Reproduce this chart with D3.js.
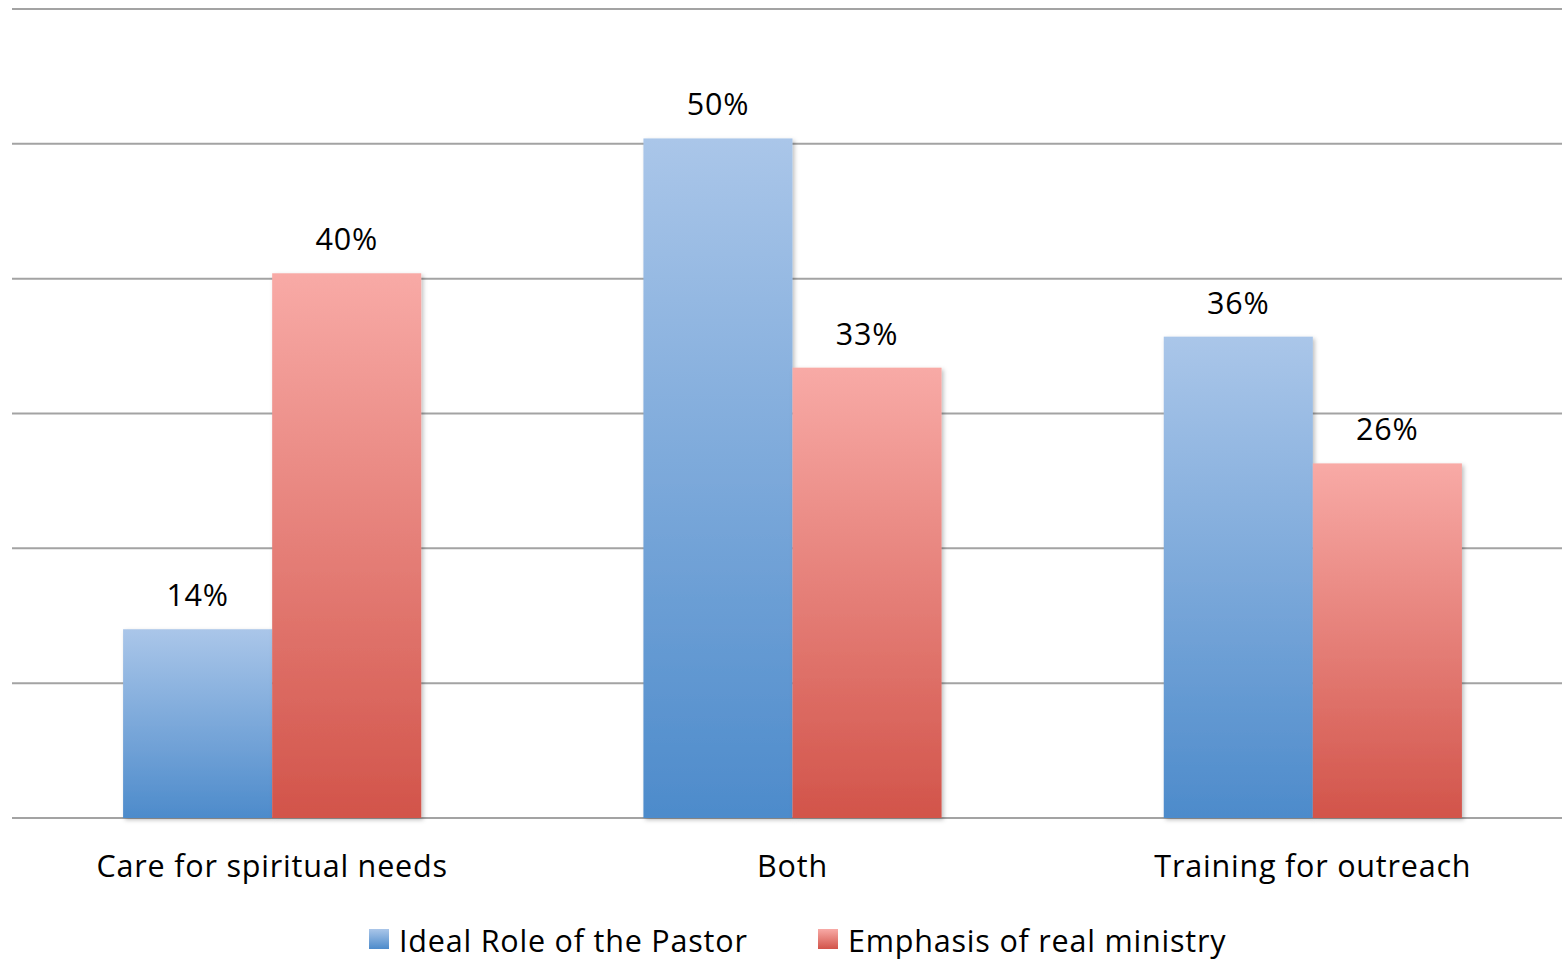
<!DOCTYPE html>
<html><head><meta charset="utf-8">
<script src="https://cdn.jsdelivr.net/npm/d3@7"></script>
<style>body{margin:0;background:#fff;}svg{display:block;}</style>
</head><body>
<svg id="c" width="1562" height="962"></svg>
<script>
const categories = ["Care for spiritual needs", "Both", "Training for outreach"];
const seriesNames = ["Ideal Role of the Pastor", "Emphasis of real ministry"];
const idealValues = [14.0, 50.4, 35.7];
const emphasisValues = [40.4, 33.4, 26.3];
const valueLabels = [["14%", "50%", "36%"], ["40%", "33%", "26%"]];
const yTicks = [0, 10, 20, 30, 40, 50, 60];

const svg = d3.select("#c");
const font = "'Open Sans', sans-serif";
const fs = 30.5;
const ls = 0.8;
const defs = svg.append("defs");
const grads = [["#aac6e9", "#4d8bcb"], ["#f8aaa6", "#d2544a"]];
grads.forEach((g, i) => {
  const lg = defs.append("linearGradient").attr("id", "g" + i).attr("x1", 0).attr("y1", 0).attr("x2", 0).attr("y2", 1);
  lg.append("stop").attr("offset", "0%").attr("stop-color", g[0]);
  lg.append("stop").attr("offset", "100%").attr("stop-color", g[1]);
});
const f = defs.append("filter").attr("id", "sh").attr("x", "-10%").attr("y", "-10%").attr("width", "130%").attr("height", "130%");
f.append("feDropShadow").attr("dx", 2).attr("dy", 2).attr("stdDeviation", 2).attr("flood-color", "#000").attr("flood-opacity", 0.25);

const y = d3.scaleLinear().domain([0, 60]).range([818, 9]);
const x = d3.scaleBand().domain(categories).range([12, 1573]).paddingInner(0.427).paddingOuter(0.2135);
const xs = d3.scaleBand().domain([0, 1]).range([0, x.bandwidth()]);

svg.append("g").selectAll("line").data(yTicks).join("line")
  .attr("x1", 12).attr("x2", 1562).attr("y1", d => y(d)).attr("y2", d => y(d))
  .attr("stroke", "#a3a3a3").attr("stroke-width", 2);

const data = [idealValues, emphasisValues];
data.forEach((vals, s) => {
  const g = svg.append("g");
  g.selectAll("rect").data(vals).join("rect")
    .attr("x", (d, i) => x(categories[i]) + xs(s))
    .attr("y", d => y(d)).attr("width", xs.bandwidth()).attr("height", d => y(0) - y(d))
    .attr("fill", `url(#g${s})`).attr("filter", "url(#sh)");
});
data.forEach((vals, s) => {
  svg.append("g").selectAll("text").data(vals).join("text")
    .attr("x", (d, i) => x(categories[i]) + xs(s) + xs.bandwidth() / 2)
    .attr("y", d => y(d) - 23)
    .attr("text-anchor", "middle").attr("font-family", font).attr("font-size", fs).attr("letter-spacing", ls).attr("fill", "#000")
    .text((d, i) => valueLabels[s][i]);
});

svg.append("g").selectAll("text").data(categories).join("text")
  .attr("x", d => x(d) + x.bandwidth() / 2).attr("y", 877)
  .attr("text-anchor", "middle").attr("font-family", font).attr("font-size", fs).attr("letter-spacing", ls).attr("fill", "#000")
  .text(d => d);

const legX = [369, 818];
seriesNames.forEach((n, i) => {
  svg.append("rect").attr("x", legX[i]).attr("y", 929).attr("width", 20).attr("height", 20).attr("fill", `url(#g${i})`);
  svg.append("text").attr("x", legX[i] + 30).attr("y", 952).attr("font-family", font).attr("font-size", fs).attr("letter-spacing", ls).attr("fill", "#000").text(n);
});
</script>
</body></html>
